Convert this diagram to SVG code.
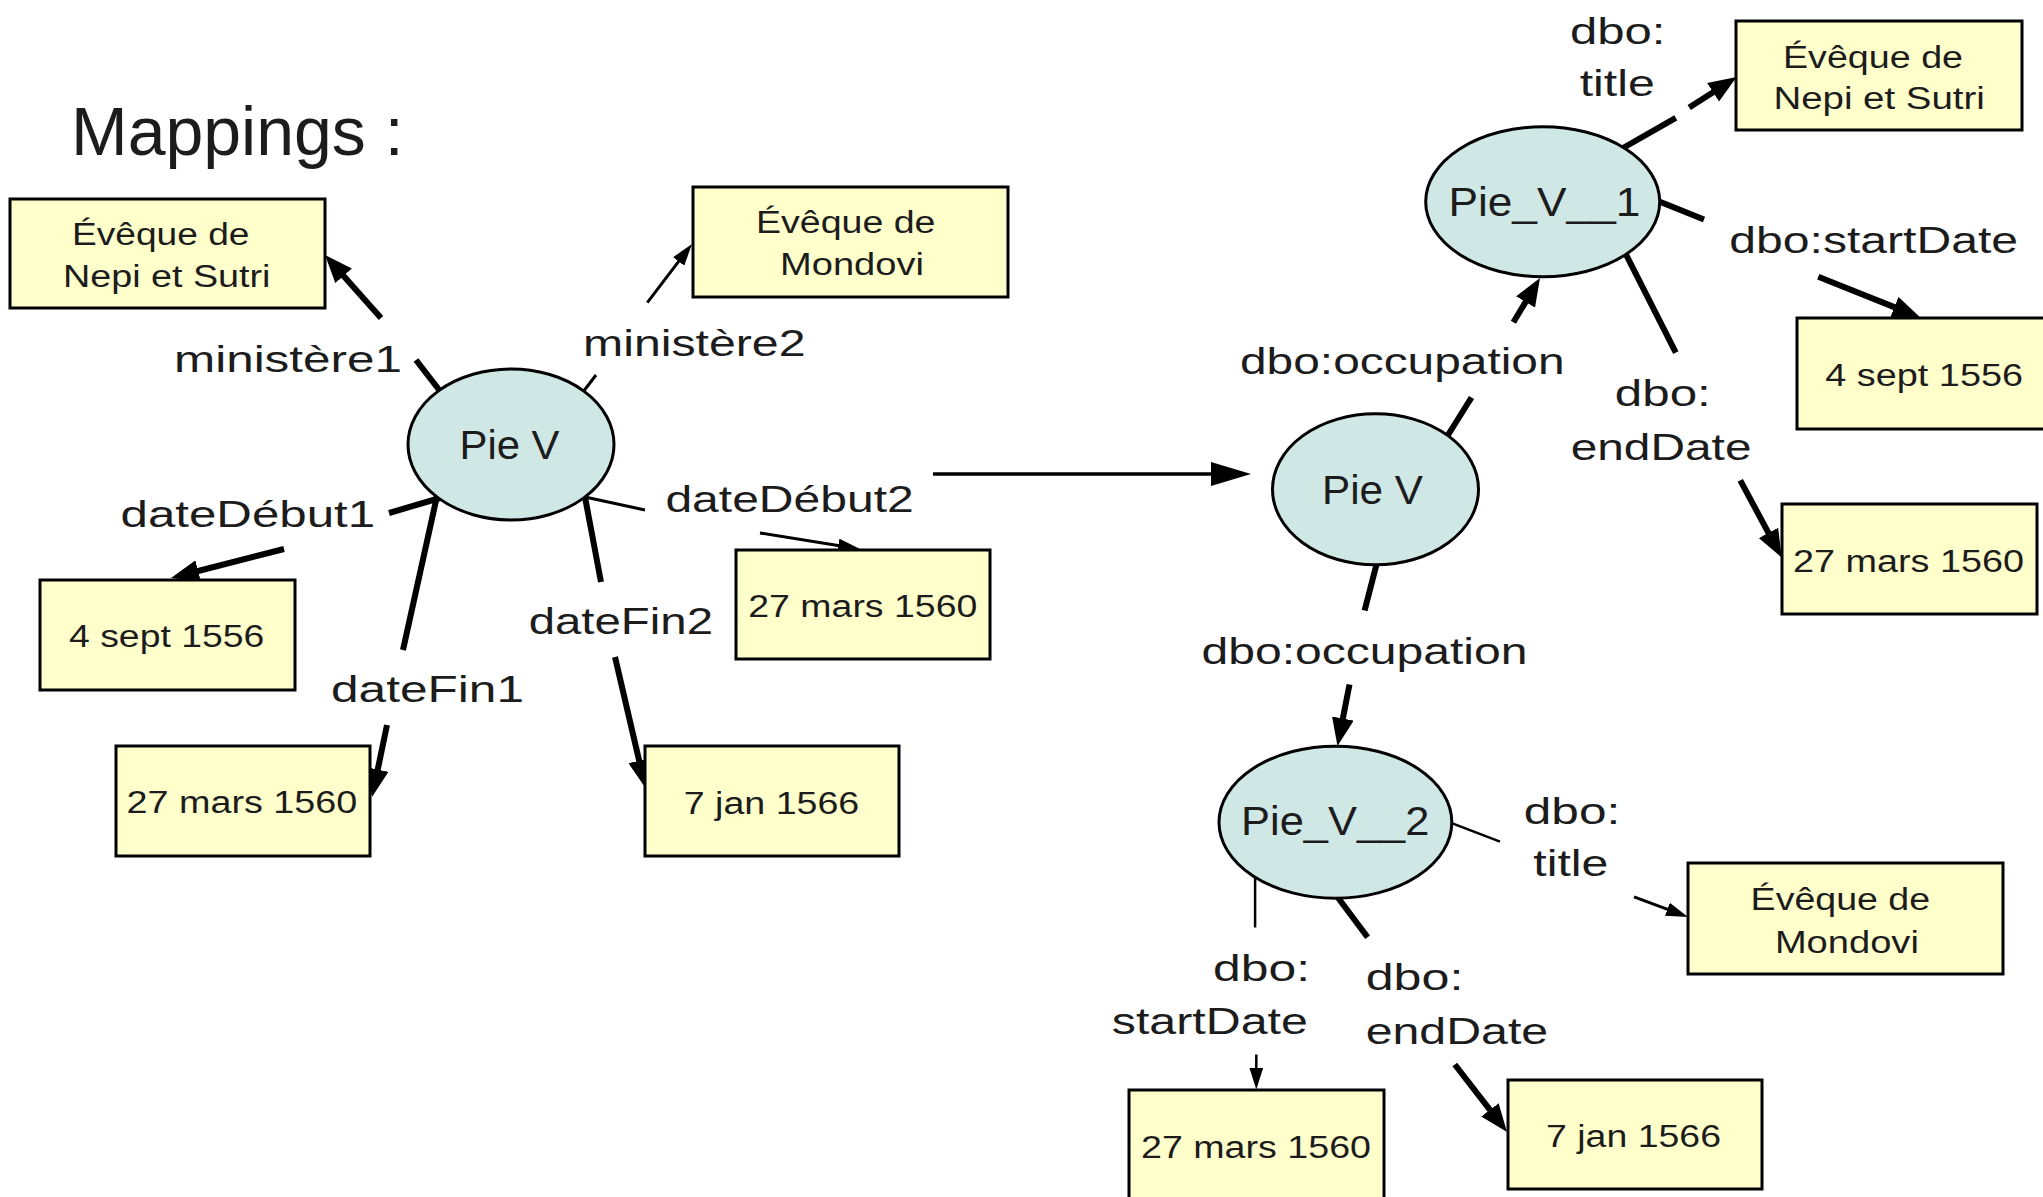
<svg xmlns="http://www.w3.org/2000/svg" width="2043" height="1197" viewBox="0 0 2043 1197">
<style>
.box{fill:#ffffcc;stroke:#000;stroke-width:3}
.node{fill:#cfe7e5;stroke:#000;stroke-width:3}
text{font-family:"Liberation Sans",Arial,sans-serif;fill:#1c1c1c}
.bt{font-size:31px}
.nt{font-size:40px}
.lb{font-size:37px}
.k{stroke:#000;stroke-width:6;fill:none}
.n{stroke:#000;stroke-width:3;fill:none}
.f{stroke:#000;stroke-width:2.5;fill:none}
</style>
<defs>
<marker id="ah" markerUnits="userSpaceOnUse" markerWidth="28" markerHeight="22" refX="8" refY="11" orient="auto"><path d="M0,0 L28,11 L0,22 z" fill="#000"/></marker>
<marker id="as" markerUnits="userSpaceOnUse" markerWidth="22" markerHeight="14" refX="6" refY="7" orient="auto"><path d="M0,0 L22,7 L0,14 z" fill="#000"/></marker>
<marker id="am" markerUnits="userSpaceOnUse" markerWidth="40" markerHeight="24" refX="12" refY="12" orient="auto"><path d="M0,0 L40,12 L0,24 z" fill="#000"/></marker>
</defs>
<rect width="2043" height="1197" fill="#fff"/>
<g id="title"><text x="71" y="155" font-size="68">Mappings :</text></g>

<g id="connectors">
<g id="e-ministere1"><line class="k" x1="440" y1="391" x2="416" y2="360"/><line class="k" x1="381" y1="318" x2="338.3" y2="269.9" marker-end="url(#ah)"/>
<text class="lb" x="174" y="371.5" textLength="228" lengthAdjust="spacingAndGlyphs">ministère1</text></g>
<g id="e-ministere2"><line class="n" x1="583" y1="392" x2="596" y2="375"/><line class="n" x1="647.3" y1="302.7" x2="682.3" y2="256.7" marker-end="url(#as)"/>
<text class="lb" x="583" y="356" textLength="222.5" lengthAdjust="spacingAndGlyphs">ministère2</text></g>
<g id="e-datedebut1"><line class="k" x1="440" y1="498" x2="389" y2="513"/><line class="k" x1="284" y1="549" x2="190.4" y2="573" marker-end="url(#ah)"/>
<text class="lb" x="120.5" y="527" textLength="254.7" lengthAdjust="spacingAndGlyphs">dateDébut1</text></g>
<g id="e-datefin1"><line class="k" x1="437" y1="496" x2="403" y2="650"/><line class="k" x1="387" y1="725" x2="376.1" y2="777.4" marker-end="url(#ah)"/>
<text class="lb" x="331" y="702" textLength="193" lengthAdjust="spacingAndGlyphs">dateFin1</text></g>
<g id="e-datefin2"><line class="k" x1="585" y1="497" x2="601" y2="582"/><line class="k" x1="615" y1="657" x2="641" y2="768.5" marker-end="url(#ah)"/>
<text class="lb" x="528.7" y="634" textLength="184.3" lengthAdjust="spacingAndGlyphs">dateFin2</text></g>
<g id="e-datedebut2"><line class="n" x1="585" y1="497" x2="645" y2="510"/><line class="n" x1="760" y1="533" x2="844.2" y2="546.5" marker-end="url(#as)"/>
<text class="lb" x="665.4" y="512" textLength="248.3" lengthAdjust="spacingAndGlyphs">dateDébut2</text></g>
<g id="e-mapping"><line stroke="#000" stroke-width="3.5" x1="933" y1="474" x2="1223" y2="474" marker-end="url(#am)"/></g>

<g id="e-occupation1"><line class="k" x1="1448" y1="435" x2="1471.5" y2="397.5"/><line class="k" x1="1513.4" y1="322.3" x2="1529.7" y2="295.1" marker-end="url(#ah)"/>
<text class="lb" x="1240" y="374" textLength="324.6" lengthAdjust="spacingAndGlyphs">dbo:occupation</text></g>
<g id="e-title1"><line class="k" x1="1623" y1="148" x2="1675.8" y2="117.8"/><line class="k" x1="1689.2" y1="107.6" x2="1719.8" y2="87.9" marker-end="url(#ah)"/>
<text class="lb" x="1570" y="43.5" textLength="95.5" lengthAdjust="spacingAndGlyphs">dbo:</text>
<text class="lb" x="1579.7" y="96" textLength="75" lengthAdjust="spacingAndGlyphs">title</text></g>
<g id="e-startdate1"><line class="k" x1="1658" y1="201" x2="1704" y2="219.5"/><line class="k" x1="1818.3" y1="276.8" x2="1901.8" y2="310.1" marker-end="url(#ah)"/>
<text class="lb" x="1729.3" y="253" textLength="288.8" lengthAdjust="spacingAndGlyphs">dbo:startDate</text></g>
<g id="e-enddate1"><line class="k" x1="1626" y1="254.5" x2="1675.8" y2="352.7"/><line class="k" x1="1740.3" y1="480.4" x2="1772.2" y2="539.9" marker-end="url(#ah)"/>
<text class="lb" x="1614.8" y="406" textLength="96" lengthAdjust="spacingAndGlyphs">dbo:</text>
<text class="lb" x="1570.7" y="460" textLength="180.8" lengthAdjust="spacingAndGlyphs">endDate</text></g>
<g id="e-occupation2"><line class="k" x1="1376.6" y1="564" x2="1364.6" y2="610.4"/><line class="k" x1="1349.5" y1="684.5" x2="1341.3" y2="726.4" marker-end="url(#ah)"/>
<text class="lb" x="1201.5" y="663.5" textLength="325.9" lengthAdjust="spacingAndGlyphs">dbo:occupation</text></g>
<g id="e-title2"><line class="f" x1="1451" y1="822.8" x2="1500" y2="841.6"/><line class="n" x1="1634" y1="896.9" x2="1673" y2="911.4" marker-end="url(#as)"/>
<text class="lb" x="1523.8" y="823.5" textLength="96.4" lengthAdjust="spacingAndGlyphs">dbo:</text>
<text class="lb" x="1533.3" y="876.4" textLength="75" lengthAdjust="spacingAndGlyphs">title</text></g>
<g id="e-startdate2"><line class="f" x1="1255.1" y1="875" x2="1255.1" y2="927.5"/><line class="f" x1="1256.3" y1="1054.5" x2="1256.3" y2="1073.5" marker-end="url(#as)"/>
<text class="lb" x="1213.1" y="980.5" textLength="96.9" lengthAdjust="spacingAndGlyphs">dbo:</text>
<text class="lb" x="1111.8" y="1033.5" textLength="196" lengthAdjust="spacingAndGlyphs">startDate</text></g>
<g id="e-enddate2"><line class="k" x1="1337.5" y1="897" x2="1367.6" y2="937.2"/><line class="k" x1="1454.8" y1="1064.5" x2="1494.8" y2="1116.2" marker-end="url(#ah)"/>
<text class="lb" x="1365.7" y="990.4" textLength="97.7" lengthAdjust="spacingAndGlyphs">dbo:</text>
<text class="lb" x="1365.7" y="1044" textLength="182.5" lengthAdjust="spacingAndGlyphs">endDate</text></g>
</g>

<g id="n-pie-v-left"><ellipse class="node" cx="511" cy="444.5" rx="103" ry="75.5"/>
<text class="nt" x="459.5" y="459" textLength="100" lengthAdjust="spacingAndGlyphs">Pie V</text></g>
<g id="n-nepi-left"><rect class="box" x="10" y="199" width="315" height="109"/>
<text class="bt" x="72" y="245" textLength="177.5" lengthAdjust="spacingAndGlyphs">Évêque de</text>
<text class="bt" x="63" y="287" textLength="207.5" lengthAdjust="spacingAndGlyphs">Nepi et Sutri</text></g>
<g id="n-mondovi-left"><rect class="box" x="693" y="187" width="315" height="110"/>
<text class="bt" x="756" y="233" textLength="179.5" lengthAdjust="spacingAndGlyphs">Évêque de</text>
<text class="bt" x="780" y="275" textLength="144" lengthAdjust="spacingAndGlyphs">Mondovi</text></g>
<g id="n-sept-left"><rect class="box" x="40" y="580" width="255" height="110"/>
<text class="bt" x="69" y="647" textLength="195.3" lengthAdjust="spacingAndGlyphs">4 sept 1556</text></g>
<g id="n-mars-left1"><rect class="box" x="116" y="746" width="254" height="110"/>
<text class="bt" x="126.5" y="813" textLength="230.8" lengthAdjust="spacingAndGlyphs">27 mars 1560</text></g>
<g id="n-mars-left2"><rect class="box" x="736" y="550" width="254" height="109"/>
<text class="bt" x="748.3" y="616.7" textLength="229" lengthAdjust="spacingAndGlyphs">27 mars 1560</text></g>
<g id="n-jan-left"><rect class="box" x="645" y="746" width="254" height="110"/>
<text class="bt" x="683.7" y="814" textLength="175.6" lengthAdjust="spacingAndGlyphs">7 jan 1566</text></g>

<g id="n-pie-v-right"><ellipse class="node" cx="1375.5" cy="489.3" rx="103" ry="75.5"/>
<text class="nt" x="1322" y="504" textLength="101" lengthAdjust="spacingAndGlyphs">Pie V</text></g>
<g id="n-pie-v-1"><ellipse class="node" cx="1542.7" cy="201.7" rx="117" ry="75"/>
<text class="nt" x="1448.4" y="215.5" textLength="192" lengthAdjust="spacingAndGlyphs">Pie_V__1</text></g>
<g id="n-pie-v-2"><ellipse class="node" cx="1335.4" cy="822.2" rx="116.4" ry="76"/>
<text class="nt" x="1241.1" y="835.4" textLength="188.3" lengthAdjust="spacingAndGlyphs">Pie_V__2</text></g>
<g id="n-nepi-right"><rect class="box" x="1736" y="21" width="286" height="109"/>
<text class="bt" x="1783" y="68" textLength="180" lengthAdjust="spacingAndGlyphs">Évêque de</text>
<text class="bt" x="1773.4" y="108.7" textLength="211.5" lengthAdjust="spacingAndGlyphs">Nepi et Sutri</text></g>
<g id="n-sept-right"><rect class="box" x="1797" y="318" width="270" height="111"/>
<text class="bt" x="1825.3" y="385.5" textLength="197.7" lengthAdjust="spacingAndGlyphs">4 sept 1556</text></g>
<g id="n-mars-right1"><rect class="box" x="1782" y="504" width="255" height="110"/>
<text class="bt" x="1793" y="572" textLength="231" lengthAdjust="spacingAndGlyphs">27 mars 1560</text></g>
<g id="n-mondovi-right"><rect class="box" x="1688" y="863" width="315" height="111"/>
<text class="bt" x="1750.6" y="910" textLength="179.5" lengthAdjust="spacingAndGlyphs">Évêque de</text>
<text class="bt" x="1774.9" y="952.7" textLength="144" lengthAdjust="spacingAndGlyphs">Mondovi</text></g>
<g id="n-mars-right2"><rect class="box" x="1129" y="1090" width="255" height="120"/>
<text class="bt" x="1141" y="1158" textLength="230" lengthAdjust="spacingAndGlyphs">27 mars 1560</text></g>
<g id="n-jan-right"><rect class="box" x="1508" y="1080" width="254" height="109"/>
<text class="bt" x="1546" y="1146.6" textLength="175" lengthAdjust="spacingAndGlyphs">7 jan 1566</text></g>
</svg>
